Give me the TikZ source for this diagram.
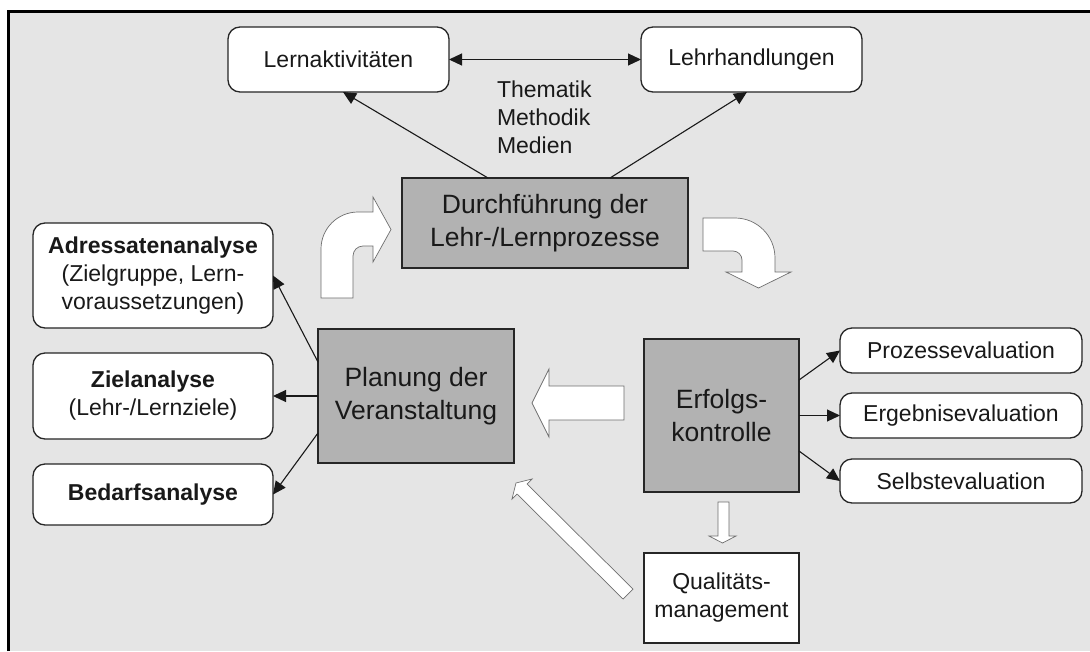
\documentclass[tikz,border=0pt]{standalone}
\usepackage{fontspec}
\setmainfont{Liberation Sans}
\usetikzlibrary{arrows.meta, positioning, calc}

\definecolor{bggray}{HTML}{E5E5E5}
\definecolor{boxgray}{HTML}{B2B2B2}
\definecolor{blockedge}{HTML}{6E6E6E}

\begin{document}
\begin{tikzpicture}[x=1pt, y=-1pt,
    every node/.style={inner sep=0pt, outer sep=0pt, align=center, text=black!90},
    smallfont/.style={font=\fontsize{23}{28}\selectfont},
    bigfont/.style={font=\fontsize{26.5}{33}\selectfont},
    softbox/.style={draw=black!85, line width=1.3pt, fill=white, rounded corners=12pt, smallfont},
    darkbox/.style={draw=black!85, line width=1.3pt, fill=boxgray, bigfont},
    plainbox/.style={draw=black!85, line width=1.3pt, fill=white, smallfont},
    link/.style={-{Triangle[length=13pt, width=12pt]}, line width=1.1pt, black!90},
    dlink/.style={{Triangle[length=13pt, width=12pt]}-{Triangle[length=13pt, width=12pt]}, line width=1.1pt, black!90},
    blockarrow/.style={draw=blockedge, line width=0.7pt, fill=white}]

	% frame
	\useasboundingbox (0,0) rectangle (1090,651);
	\fill[bggray] (8,11) rectangle (1090,651);
	\draw[line width=3pt] (8,651) -- (8,11) -- (1090,11);

	% top
	\node[softbox, minimum width=221pt, minimum height=65pt] (lern) at (338.5,59.5) {Lernaktivitäten};
	\node[softbox, minimum width=221pt, minimum height=65pt, right=192pt of lern] (lehr) {Lehrhandlungen};
	\node[smallfont, align=left, anchor=west] (themen) at (497,117) {Thematik\\Methodik\\Medien};
	\node[darkbox, minimum width=286pt, minimum height=90pt] (durch) at (545,223) {Durchführung der\\Lehr-/Lernprozesse};

	% left
	\node[softbox, minimum width=240pt, minimum height=105pt] (adress) at (153,275.5) {\textbf{Adressatenanalyse}\\(Zielgruppe, Lern-\\voraussetzungen)};
	\node[softbox, minimum width=240pt, minimum height=86pt, below=25pt of adress] (ziel) {\textbf{Zielanalyse}\\(Lehr-/Lernziele)};
	\node[softbox, minimum width=240pt, minimum height=61pt, below=25pt of ziel] (bedarf) {\textbf{Bedarfsanalyse}};
	\node[darkbox, minimum width=196pt, minimum height=134pt] (planung) at (416,396) {Planung der\\Veranstaltung};

	% right
	\node[darkbox, minimum width=155pt, minimum height=153pt] (erfolg) at (721.5,415.5) {Erfolgs-\\kontrolle};
	\node[plainbox, minimum width=155pt, minimum height=90pt, below=61pt of erfolg] (quali) {Qualitäts-\\management};
	\node[softbox, minimum width=242pt, minimum height=45pt] (prozess) at (961,350.5) {Prozessevaluation};
	\node[softbox, minimum width=242pt, minimum height=45pt, below=20pt of prozess] (ergebnis) {Ergebnisevaluation};
	\node[softbox, minimum width=242pt, minimum height=44pt, below=21pt of ergebnis] (selbst) {Selbstevaluation};

	% connectors
	\draw[dlink] (lern) -- (lehr);
	\draw[link] ([xshift=86pt]durch.north west) -- ([xshift=115pt]lern.south west);
	\draw[link] ([xshift=208pt]durch.north west) -- ([xshift=106pt]lehr.south west);
	\foreach \dy/\dst in {34/adress, 0/ziel, -37/bedarf}
		\draw[link] ([yshift=\dy pt]planung.west) -- (\dst.east);
	\foreach \dy/\dst in {35.5/prozess, 0/ergebnis, -35.5/selbst}
		\draw[link] ([yshift=\dy pt]erfolg.east) -- (\dst.west);

	% block arrows
	\draw[blockarrow] (321,298) -- (353,298) -- (353,256) arc[start angle=180, end angle=270, radius=10]
		-- (373,246) -- (373,262) -- (391,229.5) -- (373,197) -- (373,212) -- (358,212)
		arc[start angle=270, end angle=180, radius=37] -- cycle;
	\draw[blockarrow] (703,218) -- (735,218) arc[start angle=270, end angle=360, radius=40]
		-- (775,272) -- (791,272) -- (758.5,288) -- (726,272) -- (742,272) -- (742,260)
		arc[start angle=0, end angle=-90, radius=9] -- (703,251) -- cycle;
	\draw[blockarrow] (624,386) -- (549,386) -- (549,369) -- (532,403) -- (549,437) -- (549,420) -- (624,420) -- cycle;
	\draw[blockarrow] (718,502) -- (729,502) -- (729,536) -- (736,536) -- (722.5,543) -- (709,536) -- (718,536) -- cycle;
	\draw[blockarrow] (623,599) -- (517,494) -- (512,499) -- (516,483) -- (532,479) -- (527,484) -- (633,589) -- cycle;
\end{tikzpicture}
\end{document}
